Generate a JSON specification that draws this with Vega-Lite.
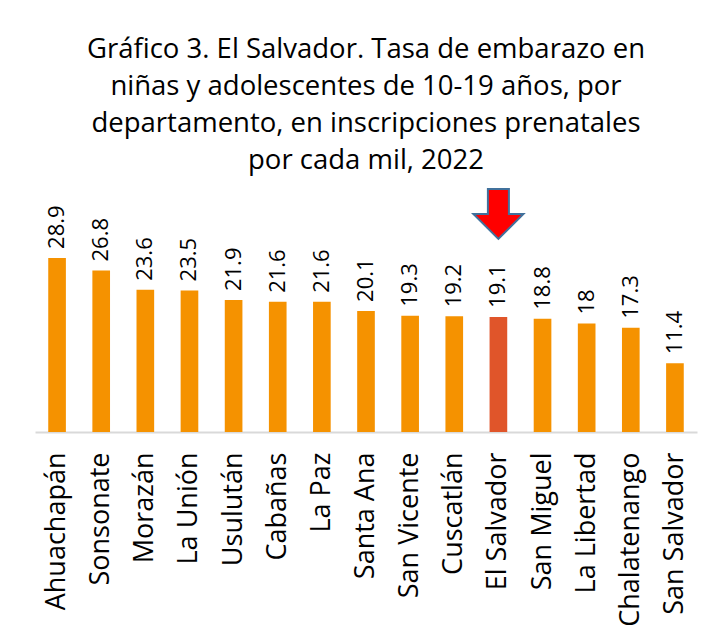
{
  "$schema": "https://vega.github.io/schema/vega-lite/v6.json",
  "width": 662,
  "height": 241,
  "autosize": {"type": "none"},
  "padding": {"left": 35, "top": 191, "right": 17, "bottom": 210},
  "background": "white",
  "title": {
    "text": ["Gráfico 3. El Salvador. Tasa de embarazo en", "niñas y adolescentes de 10-19 años, por", "departamento, en inscripciones prenatales", "por cada mil, 2022"],
    "fontSize": 27.5,
    "lineHeight": 37,
    "font": "Open Sans",
    "fontWeight": "normal",
    "color": "#000000",
    "anchor": "middle",
    "offset": 10
  },
  "data": {
    "values": [
      {"dep": "Ahuachapán", "tasa": 28.9, "label": "28.9", "hl": "no"},
      {"dep": "Sonsonate", "tasa": 26.8, "label": "26.8", "hl": "no"},
      {"dep": "Morazán", "tasa": 23.6, "label": "23.6", "hl": "no"},
      {"dep": "La Unión", "tasa": 23.5, "label": "23.5", "hl": "no"},
      {"dep": "Usulután", "tasa": 21.9, "label": "21.9", "hl": "no"},
      {"dep": "Cabañas", "tasa": 21.6, "label": "21.6", "hl": "no"},
      {"dep": "La Paz", "tasa": 21.6, "label": "21.6", "hl": "no"},
      {"dep": "Santa Ana", "tasa": 20.1, "label": "20.1", "hl": "no"},
      {"dep": "San Vicente", "tasa": 19.3, "label": "19.3", "hl": "no"},
      {"dep": "Cuscatlán", "tasa": 19.2, "label": "19.2", "hl": "no"},
      {"dep": "El Salvador", "tasa": 19.1, "label": "19.1", "hl": "yes"},
      {"dep": "San Miguel", "tasa": 18.8, "label": "18.8", "hl": "no"},
      {"dep": "La Libertad", "tasa": 18.0, "label": "18", "hl": "no"},
      {"dep": "Chalatenango", "tasa": 17.3, "label": "17.3", "hl": "no"},
      {"dep": "San Salvador", "tasa": 11.4, "label": "11.4", "hl": "no"}
    ]
  },
  "encoding": {
    "x": {
      "field": "dep",
      "type": "nominal",
      "sort": null,
      "scale": {"paddingInner": 0.6, "paddingOuter": 0.3},
      "axis": {
        "title": null,
        "labelAngle": -90,
        "labelAlign": "right",
        "labelBaseline": "middle",
        "labelFontSize": 27,
        "labelFont": "Open Sans",
        "labelColor": "#000000",
        "labelPadding": 20,
        "labelLimit": 300,
        "ticks": false,
        "domainColor": "#d9d9d9",
        "domainWidth": 2,
        "grid": false
      }
    }
  },
  "layer": [
    {
      "mark": {"type": "bar"},
      "encoding": {
        "y": {"field": "tasa", "type": "quantitative", "scale": {"domain": [0, 40], "nice": false}, "axis": null},
        "color": {"field": "hl", "type": "nominal", "scale": {"domain": ["no", "yes"], "range": ["#F59200", "#E0552A"]}, "legend": null}
      }
    },
    {
      "mark": {"type": "text", "angle": 270, "align": "left", "baseline": "middle", "dx": 9, "fontSize": 22, "font": "Open Sans", "color": "#000000"},
      "encoding": {
        "y": {"field": "tasa", "type": "quantitative"},
        "text": {"field": "label"}
      }
    },
    {
      "transform": [{"filter": "datum.hl == 'yes'"}],
      "mark": {"type": "point", "shape": "M-0.42,-1 L0.42,-1 L0.42,0 L1,0 L0,1 L-1,0 L-0.42,0 Z", "filled": true, "fill": "#FF0000", "stroke": "#41719C", "strokeWidth": 2, "size": 2500, "opacity": 1},
      "encoding": {
        "y": {"datum": 36.2, "type": "quantitative"}
      }
    }
  ],
  "config": {"view": {"stroke": null}}
}
